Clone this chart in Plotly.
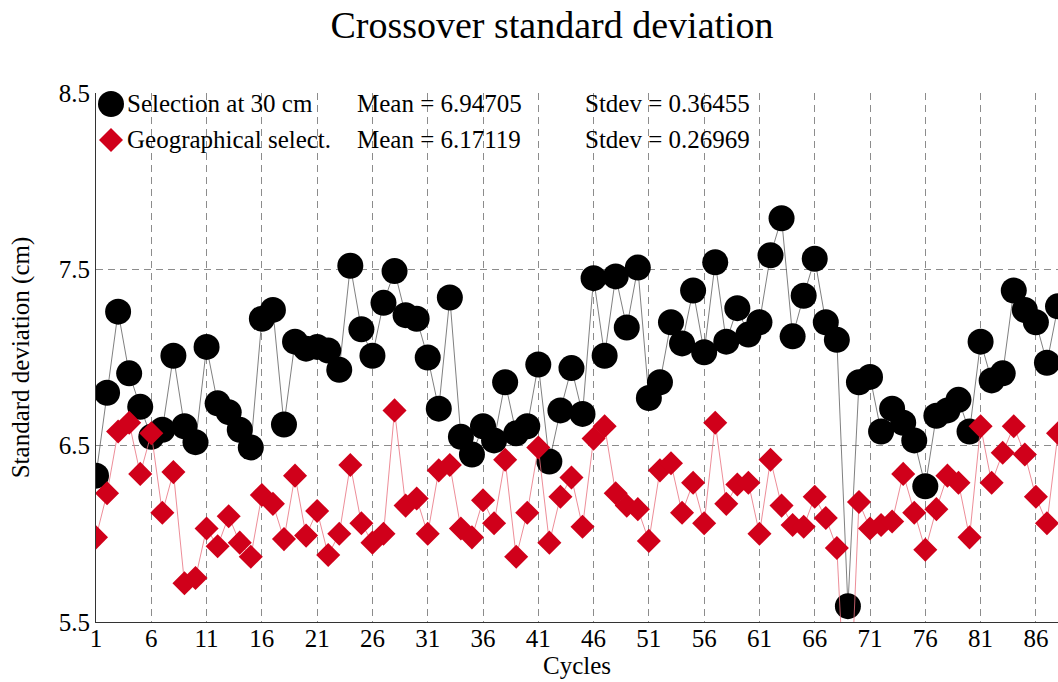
import plotly.graph_objects as go

cycles = list(range(1, 89))

selection_30cm = [
    6.33, 6.80, 7.26, 6.91, 6.72, 6.55, 6.59, 7.01, 6.61, 6.52,
    7.06, 6.74, 6.69, 6.59, 6.49, 7.22, 7.27, 6.62, 7.09, 7.05,
    7.06, 7.04, 6.93, 7.52, 7.16, 7.01, 7.31, 7.49, 7.24, 7.22,
    7.00, 6.71, 7.34, 6.55, 6.45, 6.61, 6.53, 6.86, 6.57, 6.61,
    6.96, 6.41, 6.70, 6.94, 6.68, 7.45, 7.01, 7.46, 7.17, 7.51,
    6.77, 6.86, 7.20, 7.08, 7.38, 7.03, 7.54, 7.09, 7.28, 7.13,
    7.20, 7.58, 7.79, 7.12, 7.35, 7.56, 7.20, 7.10, 5.59, 6.86,
    6.89, 6.58, 6.71, 6.63, 6.53, 6.27, 6.67, 6.70, 6.76, 6.58,
    7.09, 6.87, 6.91, 7.38, 7.27, 7.20, 6.97, 7.29,
]

geographical = [
    5.98, 6.23, 6.58, 6.63, 6.34, 6.57, 6.12, 6.35, 5.72, 5.75,
    6.03, 5.93, 6.10, 5.95, 5.87, 6.22, 6.17, 5.97, 6.33, 5.99,
    6.13, 5.88, 6.00, 6.39, 6.06, 5.95, 6.00, 6.70, 6.16, 6.20,
    6.00, 6.36, 6.39, 6.03, 5.98, 6.19, 6.06, 6.42, 5.87, 6.12,
    6.49, 5.95, 6.21, 6.32, 6.04, 6.54, 6.61, 6.23, 6.16, 6.14,
    5.96, 6.36, 6.40, 6.12, 6.29, 6.06, 6.63, 6.17, 6.28, 6.29,
    6.00, 6.42, 6.16, 6.05, 6.04, 6.21, 6.09, 5.92, 4.70, 6.18,
    6.03, 6.05, 6.07, 6.34, 6.12, 5.91, 6.14, 6.33, 6.29, 5.98,
    6.61, 6.29, 6.46, 6.61, 6.45, 6.21, 6.06, 6.57,
]

series_names = ["Selection at 30 cm", "Geographical select."]
series_means = ["Mean = 6.94705", "Mean = 6.17119"]
series_stdevs = ["Stdev = 0.36455", "Stdev = 0.26969"]

FONT = "Liberation Serif, Times New Roman, serif"
W, H = 1058, 682
ML, MR, MT, MB = 96, 0, 93, 60
PW, PH = W - ML - MR, H - MT - MB

fig = go.Figure()
fig.add_trace(go.Scatter(
    x=cycles, y=selection_30cm, mode="lines+markers", name=series_names[0],
    line=dict(color="#606060", width=0.8),
    marker=dict(symbol="circle", size=26, color="black", line=dict(width=0)),
))
fig.add_trace(go.Scatter(
    x=cycles, y=geographical, mode="lines+markers", name=series_names[1],
    line=dict(color="#e8707e", width=0.8),
    marker=dict(symbol="diamond", size=18.5, color="#d0001a", line=dict(width=0)),
))

def px_to_paper(px, py):
    return (px - ML) / PW, (H - MB - py) / PH

# manual legend
rows_y = [104, 140]
for i in range(2):
    ax, ay = px_to_paper(111, rows_y[i])
    if i == 0:
        fig.add_shape(type="circle", xref="paper", yref="paper",
                      xsizemode="pixel", ysizemode="pixel",
                      xanchor=ax, yanchor=ay, x0=-13, x1=13, y0=-13, y1=13,
                      fillcolor="black", line=dict(width=0), layer="above")
    else:
        fig.add_shape(type="path", xref="paper", yref="paper",
                      xsizemode="pixel", ysizemode="pixel",
                      xanchor=ax, yanchor=ay,
                      path="M -12 0 L 0 12 L 12 0 L 0 -12 Z",
                      fillcolor="#d0001a", line=dict(width=0), layer="above")
    for txt, tx in [(series_names[i], 125), (series_means[i], 355), (series_stdevs[i], 583)]:
        px, py = px_to_paper(tx, rows_y[i])
        fig.add_annotation(text=txt, x=px, y=py, xref="paper", yref="paper",
                           xanchor="left", yanchor="middle", showarrow=False,
                           font=dict(family=FONT, size=25, color="black"))

grid = dict(showgrid=True, gridcolor="#8c8c8c", gridwidth=1, griddash="7px,5px")

fig.update_layout(
    width=W, height=H,
    margin=dict(l=ML, r=MR, t=MT, b=MB, pad=0),
    paper_bgcolor="white", plot_bgcolor="white",
    showlegend=False,
    font=dict(family=FONT, size=25, color="black"),
    title=dict(text="Crossover standard deviation", x=(552 - ML) / PW, xref="paper",
               xanchor="center", y=1 - 25 / H, yref="container", yanchor="middle",
               font=dict(family=FONT, size=38, color="black")),
    xaxis=dict(range=[1, 88], tick0=1, dtick=5, ticks="", showline=True,
               linecolor="#333333", linewidth=1, zeroline=False,
               tickfont=dict(family=FONT, size=25, color="black"),
               ticklabelstandoff=-6,
               title=dict(text="Cycles", standoff=2,
                          font=dict(family=FONT, size=25, color="black")),
               **grid),
    yaxis=dict(range=[5.5, 8.5], tick0=5.5, dtick=1, ticks="", showline=True,
               linecolor="#333333", linewidth=1, zeroline=False,
               tickfont=dict(family=FONT, size=25, color="black"),
               title=dict(text="Standard deviation (cm)", standoff=22,
                          font=dict(family=FONT, size=25, color="black")),
               **grid),
)

fig.write_html("out.html", config={"displayModeBar": False},
               post_script="document.body.style.margin='0';")
